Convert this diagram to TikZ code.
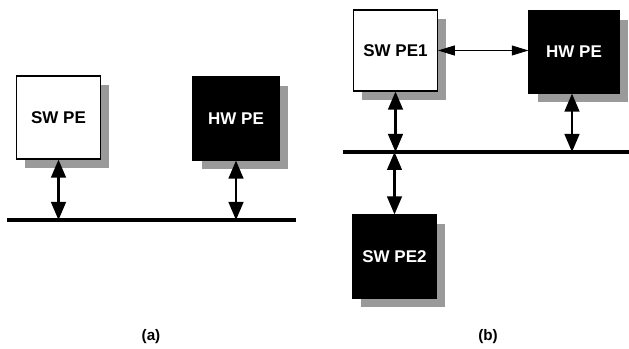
\documentclass[tikz,border=0pt]{standalone}
\usepackage{fontspec}
\setmainfont{Liberation Sans}
\usetikzlibrary{arrows.meta,shadows}
\definecolor{ShadowGrey}{HTML}{9A9A9A}

\begin{document}
\begin{tikzpicture}[
    x=0.03cm, y=-0.03cm,
    pe/.style={draw=black, line width=1pt, minimum width=2.52cm, minimum height=2.49cm,
      font=\fontsize{14.5}{16}\selectfont\bfseries,
      general shadow={fill=ShadowGrey, shadow xshift=0.26cm, shadow yshift=-0.26cm}},
    swbox/.style={pe, fill=white, text=black},
    hwbox/.style={pe, fill=black, text=white},
    bus/.style={line width=2.6pt},
    link/.style={{Triangle[length=5.4mm,width=4.4mm]}-{Triangle[length=5.4mm,width=4.4mm]}, line width=2pt},
    peer/.style={{Triangle[length=5mm,width=3mm]}-{Triangle[length=5mm,width=3mm]}, line width=0.7pt},
    caption/.style={font=\fontsize{13}{15}\selectfont\bfseries}
  ]
    \useasboundingbox (0,0) rectangle (629,349);

    % (a)
    \node[swbox] (swa) at (58.5,117.5) {SW PE};
    \node[hwbox, minimum width=2.58cm] (hwa) at (236,118.5) {HW PE};
    \coordinate (busaL) at (7,220);
    \coordinate (busaR) at (296,220);
    \draw[bus] (busaL) -- (busaR);
    \draw[link] (swa.south) -- (swa.south |- busaL);
    \draw[link] (hwa.south) -- (hwa.south |- busaL);
    \node[caption] (capa) at (151,337) {(a)};

    % (b)
    \node[swbox, minimum height=2.43cm] (swb1) at (395.5,50.5) {SW PE1};
    \node[hwbox, minimum width=2.7cm, minimum height=2.46cm] (hwb) at (574,52) {HW PE};
    \node[hwbox] (swb2) at (394.5,256.5) {SW PE2};
    \coordinate (busbL) at (343,152);
    \coordinate (busbR) at (629,152);
    \draw[bus] (busbL) -- (busbR);
    \draw[peer] (swb1.east) -- (swb1.east -| hwb.west);
    \draw[link] (swb1.south) -- (swb1.south |- busbL);
    \draw[link] (hwb.south -| 572,0) -- (572,152);
    \draw[link] (swb2.north |- busbL) -- (swb2.north);
    \node[caption] (capb) at (488,337) {(b)};
  \end{tikzpicture}
\end{document}
